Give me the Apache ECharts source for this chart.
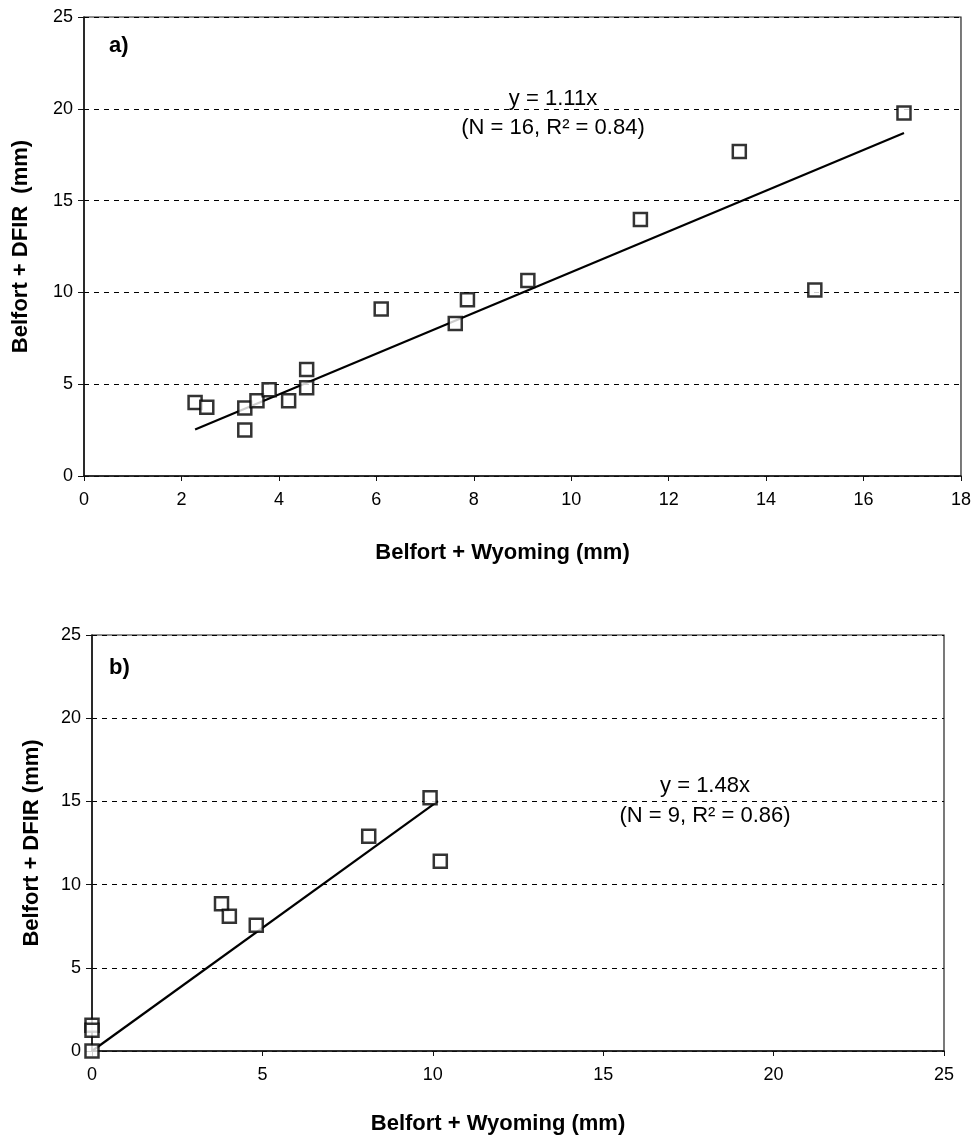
<!DOCTYPE html>
<html>
<head>
<meta charset="utf-8">
<script src="https://cdn.jsdelivr.net/npm/echarts@6/dist/echarts.min.js"></script>
<style>
html,body{margin:0;padding:0;background:#fff;}
#c{width:974px;height:1138px;}
</style>
</head>
<body>
<div id="c"></div>
<script>
// ---- Panel a) data ----
const xTicksA = [0, 2, 4, 6, 8, 10, 12, 14, 16, 18];
const yTicksA = [0, 5, 10, 15, 20, 25];
const wyomingA = [2.28, 2.52, 3.30, 3.30, 3.55, 3.80, 4.20, 4.57, 4.57, 6.10, 7.62, 7.87, 9.11, 11.42, 13.45, 15.00, 16.83];
const dfirA    = [4.00, 3.75, 3.70, 2.50, 4.10, 4.70, 4.10, 5.80, 4.80, 9.10, 8.30, 9.60, 10.65, 13.97, 17.68, 10.13, 19.77];
const trendXA = [2.28, 16.83];
const trendYA = [2.53, 18.68];
const eqA = "y = 1.11x";
const statA = "(N = 16, R² = 0.84)";

// ---- Panel b) data ----
const xTicksB = [0, 5, 10, 15, 20, 25];
const yTicksB = [0, 5, 10, 15, 20, 25];
const wyomingB = [0, 0, 0, 3.80, 4.03, 4.82, 8.12, 9.92, 10.22];
const dfirB    = [1.55, 1.25, 0, 8.85, 8.10, 7.55, 12.90, 15.22, 11.40];
const trendXB = [0, 10.15];
const trendYB = [0, 15.02];
const eqB = "y = 1.48x";
const statB = "(N = 9, R² = 0.86)";

const xName = "Belfort + Wyoming (mm)";
const yNameA = "Belfort + DFIR  (mm)";
const yNameB = "Belfort + DFIR (mm)";

const FONT = "Liberation Sans, Arial, sans-serif";
const pairs = (xs, ys) => xs.map((x, i) => [x, ys[i]]);

function xAxisCfg(idx, ticks) {
  return {
    type: 'value', gridIndex: idx,
    min: ticks[0], max: ticks[ticks.length - 1], interval: ticks[1] - ticks[0],
    name: xName, nameLocation: 'middle', nameGap: idx === 0 ? 66 : 62,
    nameTextStyle: { fontFamily: FONT, fontSize: 22, fontWeight: 'bold', color: '#000', padding: [0, 40, 0, 0] },
    axisLine: { show: true, onZero: false, lineStyle: { color: '#111', width: 1.5 } },
    axisTick: { show: true, inside: false, length: 5, lineStyle: { color: '#111' } },
    axisLabel: { fontFamily: FONT, fontSize: 18, color: '#000', margin: 15, showMinLabel: true, showMaxLabel: true },
    splitLine: { show: false }
  };
}
function yAxisCfg(idx, ticks, name, gap) {
  return {
    type: 'value', gridIndex: idx,
    min: ticks[0], max: ticks[ticks.length - 1], interval: ticks[1] - ticks[0],
    name: name, nameLocation: 'middle', nameGap: gap, nameRotate: 90,
    nameTextStyle: { fontFamily: FONT, fontSize: 22, fontWeight: 'bold', color: '#000' },
    axisLine: { show: true, onZero: false, lineStyle: { color: '#111', width: 1.5 } },
    axisTick: { show: true, inside: false, length: 6, lineStyle: { color: '#111' } },
    axisLabel: { fontFamily: FONT, fontSize: 18, color: '#000', margin: 11, showMinLabel: true, showMaxLabel: true },
    splitLine: { show: true, lineStyle: { color: '#000', width: 1, type: [5, 5] } }
  };
}

const scatterStyle = { color: '#fff', borderColor: '#000', borderWidth: 2.5 };

const chart = echarts.init(document.getElementById('c'), null, { renderer: 'canvas' });
chart.setOption({
  backgroundColor: '#fff',
  animation: false,
  grid: [
    { left: 84, right: 13, top: 17, bottom: 662, show: true, borderColor: '#222', borderWidth: 1.2, backgroundColor: 'transparent' },
    { left: 92, right: 30, top: 635, bottom: 87, show: true, borderColor: '#222', borderWidth: 1.2, backgroundColor: 'transparent' }
  ],
  xAxis: [xAxisCfg(0, xTicksA), xAxisCfg(1, xTicksB)],
  yAxis: [yAxisCfg(0, yTicksA, yNameA, 52), yAxisCfg(1, yTicksB, yNameB, 49)],
  series: [
    {
      type: 'line', xAxisIndex: 0, yAxisIndex: 0, data: pairs(trendXA, trendYA),
      symbol: 'none', lineStyle: { color: '#000', width: 2.2 }, z: 2
    },
    {
      type: 'scatter', xAxisIndex: 0, yAxisIndex: 0, data: pairs(wyomingA, dfirA),
      symbol: 'rect', symbolSize: 13, itemStyle: scatterStyle, z: 3
    },
    {
      type: 'line', xAxisIndex: 1, yAxisIndex: 1, data: pairs(trendXB, trendYB),
      symbol: 'none', lineStyle: { color: '#000', width: 2.2 }, z: 2
    },
    {
      type: 'scatter', xAxisIndex: 1, yAxisIndex: 1, data: pairs(wyomingB, dfirB),
      symbol: 'rect', symbolSize: 13, itemStyle: scatterStyle, z: 3
    }
  ],
  graphic: [
    { type: 'text', left: 109, top: 35, style: { text: 'a)', fontFamily: FONT, fontSize: 22, fontWeight: 'bold', fill: '#000' } },
    { type: 'text', left: 109, top: 657, style: { text: 'b)', fontFamily: FONT, fontSize: 22, fontWeight: 'bold', fill: '#000' } },
    { type: 'text', x: 553, y: 99, style: { text: eqA, fontFamily: FONT, fontSize: 22, fill: '#000', align: 'center', verticalAlign: 'middle' } },
    { type: 'text', x: 553, y: 128, style: { text: statA, fontFamily: FONT, fontSize: 22, fill: '#000', align: 'center', verticalAlign: 'middle' } },
    { type: 'text', x: 705, y: 786, style: { text: eqB, fontFamily: FONT, fontSize: 22, fill: '#000', align: 'center', verticalAlign: 'middle' } },
    { type: 'text', x: 705, y: 816, style: { text: statB, fontFamily: FONT, fontSize: 22, fill: '#000', align: 'center', verticalAlign: 'middle' } }
  ]
});
</script>
</body>
</html>
